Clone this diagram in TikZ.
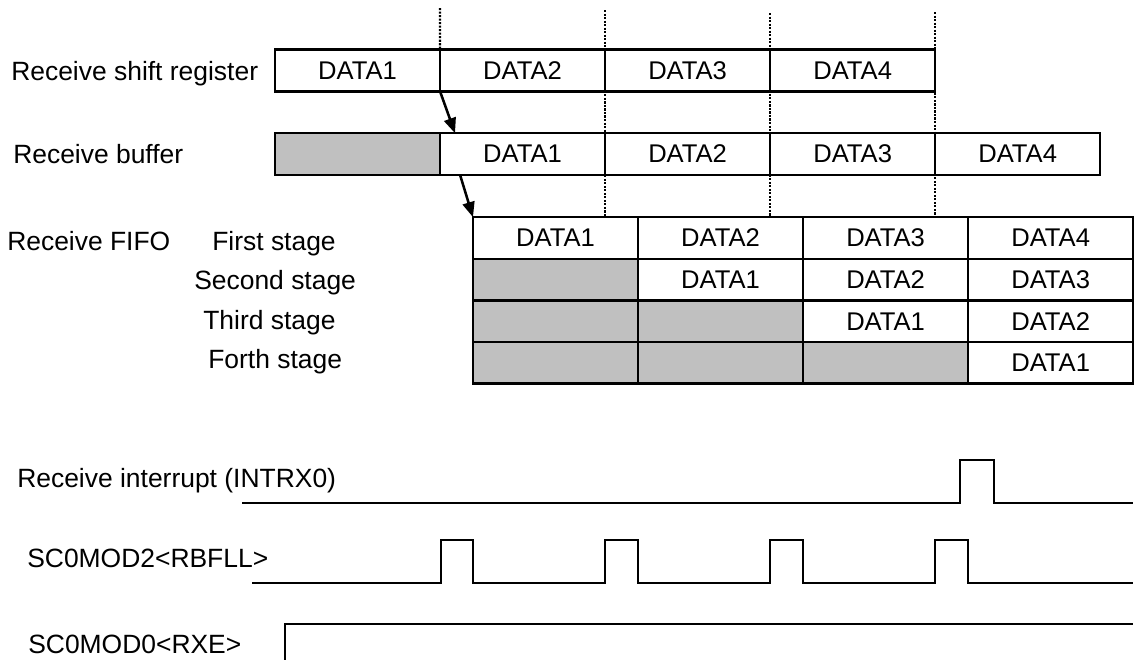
\documentclass[tikz,border=0pt]{standalone}
\usepackage{fontspec}
\setmainfont{Liberation Sans}
\usepackage{tikz}
\usetikzlibrary{arrows.meta,positioning,calc,backgrounds}
\definecolor{cellgray}{RGB}{192,192,192}

\begin{document}
\begin{tikzpicture}[
  x=0.025cm, y=-0.025cm,
  lbl/.style={anchor=base west, inner sep=0pt, font=\fontsize{18.8}{22}\selectfont},
  cell/.style={rectangle, draw, line width=1.8pt, fill=white, minimum width=4.125cm, minimum height=1.04cm,
               inner sep=0pt, outer sep=0pt, font=\fontsize{18.2}{20}\selectfont},
  emptycell/.style={cell, fill=cellgray},
  guide/.style={line width=1.5pt, dash pattern=on 1.5pt off 1pt},
  arr/.style={-{Triangle[length=3.8mm, width=3mm]}, line width=1.8pt},
  wave/.style={line width=1.7pt}
]
\useasboundingbox (0,0) rectangle (1135,659);

% row labels
\node[lbl] (lblsr) at (11,80) {Receive shift register};
\node[lbl] (lblbuf) at (13,163) {Receive buffer};
\node[lbl] (lblfifo) at (7,250) {Receive FIFO};
\node[lbl] (lblst1) at (212,250) {First stage};
\node[lbl] (lblst2) at (194,289) {Second stage};
\node[lbl] (lblst3) at (203,329) {Third stage};
\node[lbl] (lblst4) at (208,368) {Forth stage};

% receive shift register
\node[cell] (s1) at (357.5,70.5) {DATA1};
\node[cell, right=0pt of s1] (s2) {DATA2};
\node[cell, right=0pt of s2] (s3) {DATA3};
\node[cell, right=0pt of s3] (s4) {DATA4};

% receive buffer
\node[emptycell] (b0) at (357.5,154) {};
\node[cell, right=0pt of b0] (b1) {DATA1};
\node[cell, right=0pt of b1] (b2) {DATA2};
\node[cell, right=0pt of b2] (b3) {DATA3};
\node[cell, right=0pt of b3] (b4) {DATA4};

% receive FIFO
\node[cell] (q11) at (555.5,238) {DATA1};
\node[cell, right=0pt of q11] (q12) {DATA2};
\node[cell, right=0pt of q12] (q13) {DATA3};
\node[cell, right=0pt of q13] (q14) {DATA4};
\node[emptycell, below=0pt of q11] (q21) {};
\node[cell, right=0pt of q21] (q22) {DATA1};
\node[cell, right=0pt of q22] (q23) {DATA2};
\node[cell, right=0pt of q23] (q24) {DATA3};
\node[emptycell, below=0pt of q21] (q31) {};
\node[emptycell, right=0pt of q31] (q32) {};
\node[cell, right=0pt of q32] (q33) {DATA1};
\node[cell, right=0pt of q33] (q34) {DATA2};
\node[emptycell, below=0pt of q31] (q41) {};
\node[emptycell, right=0pt of q41] (q42) {};
\node[emptycell, right=0pt of q42] (q43) {};
\node[cell, right=0pt of q43] (q44) {DATA1};

% timing guides
\coordinate (t1) at (440,8);
\coordinate (t2) at (605,10);
\coordinate (t3) at (770,13);
\coordinate (t4) at (935,12);
\begin{scope}[on background layer]
\draw[guide] (t1) -- (s1.north east);
\draw[guide] (t2) -- (t2 |- q11.north);
\draw[guide] (t3) -- (t3 |- q11.north);
\draw[guide] (t4) -- (t4 |- q11.north);
\end{scope}

\draw[arr] (s1.south east) -- ($(b1.north west)+(15,0)$);
\draw[arr] ($(b1.south west)+(20,0)$) -- (q11.north west);

% waveforms
\node[lbl] (lblint) at (17,487) {Receive interrupt (INTRX0)};
\node[lbl] (lblrbf) at (27,567) {SC0MOD2<RBFLL>};
\node[lbl] (lblrxe) at (28,653) {SC0MOD0<RXE>};

\draw[wave] (242,503) -- (960,503) -- (960,460) -- (994,460) -- (994,503) -- (1133,503);
\draw[wave] (252,583) -- (441,583) -- (441,540) -- (473,540) -- (473,583)
  -- (605,583) -- (605,540) -- (638,540) -- (638,583)
  -- (770,583) -- (770,540) -- (803,540) -- (803,583)
  -- (935,583) -- (935,540) -- (968,540) -- (968,583) -- (1133,583);
\draw[wave] (285,662) -- (285,624) -- (1133,624);
\end{tikzpicture}
\end{document}
